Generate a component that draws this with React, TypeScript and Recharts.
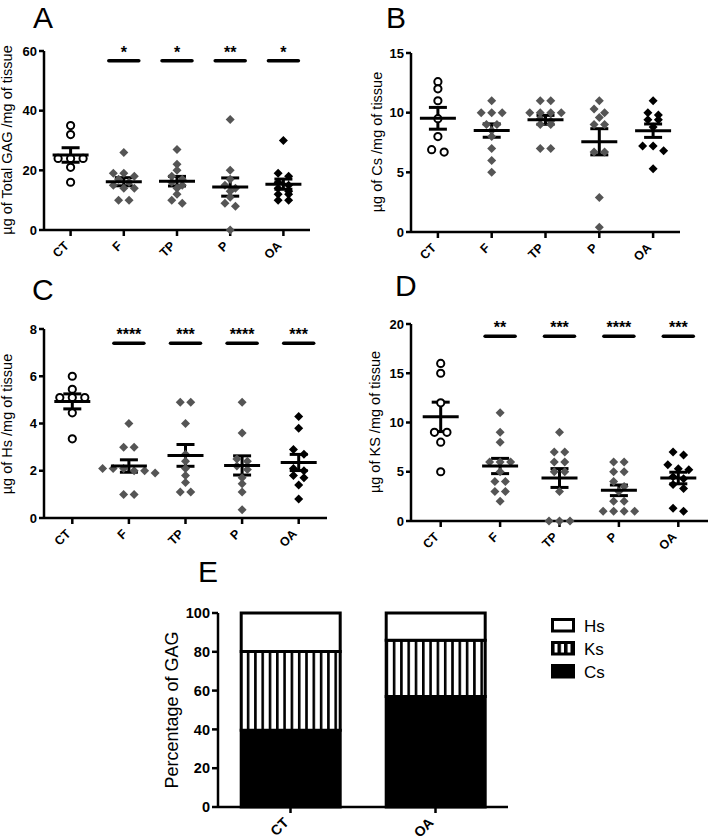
import React from 'react';
import { ScatterChart, Scatter, XAxis, YAxis, ErrorBar, BarChart, Bar, Legend } from 'recharts';

const groupNames = ['CT', 'F', 'TP', 'P', 'OA'];

// Panel A: total GAG (µg / mg tissue)
const gagCT = [32, 35, 24, 24, 24, 21, 16];
const gagF = [26, 19, 19, 18, 17, 16, 15, 14, 14, 10, 10];
const gagTP = [27, 22, 20, 18, 17, 16, 15, 14, 12, 10, 9];
const gagP = [37, 20, 17, 15, 14, 13, 11, 9, 8, 0];
const gagOA = [30, 19, 18, 16, 15, 14, 13, 12, 12, 10, 10];
const gagSig = ['', '*', '*', '**', '*'];

// Panel B: Cs
const csCT = [12.6, 12.0, 11.0, 9.5, 8.0, 6.9, 6.7];
const csF = [11, 10, 10, 10, 9, 9, 8.5, 8, 7, 6, 5];
const csTP = [11, 11, 10, 10, 10, 10, 9.5, 9.3, 9, 9, 7, 7];
const csP = [11, 10.3, 10, 9.6, 9, 9, 6.7, 6.7, 2.9, 0.4];
const csOA = [11, 10, 9.8, 9.4, 9.4, 8.8, 7.2, 7.2, 6.8, 5.3];

// Panel C: Hs
const hsCT = [6.0, 5.45, 5.1, 5.1, 5.1, 4.45, 3.35];
const hsF = [4, 3, 3, 2.1, 2.1, 2.1, 2.0, 2.0, 1.9, 1, 1];
const hsTP = [4.9, 4.9, 4.0, 2.7, 2.4, 2.1, 1.8, 1.5, 1.1, 1.1];
const hsP = [4.9, 3.6, 2.5, 2.4, 2.2, 2.05, 1.7, 1.45, 1.1, 0.35];
const hsOA = [4.3, 3.8, 2.9, 2.7, 2.1, 2.0, 1.8, 1.7, 1.4, 0.8];
const hsSig = ['', '****', '***', '****', '***'];

// Panel D: KS
const ksCT = [16, 15, 12, 9, 9, 8, 5];
const ksF = [11, 9, 8, 6, 6, 6, 5, 4, 4, 3, 3, 2];
const ksTP = [9, 7, 7, 6, 6, 5, 5, 3, 0, 0, 0];
const ksP = [6, 6, 5, 5, 4, 3.5, 3, 2, 2, 1, 1, 1, 1];
const ksOA = [7, 6.7, 5.7, 5.3, 5.2, 4.5, 4.3, 3.7, 3.3, 1.3, 1.0];
const ksSig = ['', '**', '***', '****', '***'];

// Panel E: percentage of GAG
const eCategories = ['CT', 'OA'];
const eCs = [39.5, 57];
const eKs = [40.7, 29];
const eHs = [19.8, 14];

const FONT = '"Liberation Sans", Arial, Helvetica, sans-serif';
const YW = 38;
const XH = 40;
const axisStyle = { stroke: '#000', strokeWidth: 2.5 };

function mean(a: number[]) {
  return a.reduce((s, v) => s + v, 0) / a.length;
}
function sem(a: number[]) {
  const m = mean(a);
  const v = a.reduce((s, x) => s + (x - m) * (x - m), 0) / (a.length - 1);
  return Math.sqrt(v) / Math.sqrt(a.length);
}

// simple column-scatter layout: points at nearly the same height are spread sideways
function swarm(values: number[], ppu: number, step: number, tol: number) {
  const sorted = [...values].sort((a, b) => b - a);
  const rows: number[][] = [];
  let cur: number[] = [];
  let start = 0;
  sorted.forEach((v) => {
    if (cur.length && (start - v) * ppu > tol) {
      rows.push(cur);
      cur = [];
    }
    if (!cur.length) start = v;
    cur.push(v);
  });
  if (cur.length) rows.push(cur);
  const out: { v: number; off: number }[] = [];
  rows.forEach((row) => row.forEach((v, i) => out.push({ v, off: (i - (row.length - 1) / 2) * step })));
  return out;
}

const CircleShape = (p: any) => (
  <circle cx={p.cx} cy={p.cy} r={3.6} fill="#fff" stroke="#000" strokeWidth={2} />
);
const makeDiamond = (fill: string) => (p: any) => {
  const r = 4.5;
  return (
    <polygon
      points={`${p.cx},${p.cy - r} ${p.cx + r},${p.cy} ${p.cx},${p.cy + r} ${p.cx - r},${p.cy}`}
      fill={fill}
    />
  );
};
const GrayDiamond = makeDiamond('#555555');
const BlackDiamond = makeDiamond('#000000');

const MeanShape = (p: any) => (
  <line x1={p.cx - 18} x2={p.cx + 18} y1={p.cy} y2={p.cy} stroke="#000" strokeWidth={3} />
);

const SigShape = (p: any) => (
  <g>
    <line x1={p.cx - 15} x2={p.cx + 15} y1={p.cy} y2={p.cy} stroke="#000" strokeWidth={3.5} strokeLinecap="round" />
    <text x={p.cx} y={p.cy - 3} textAnchor="middle" fontFamily={FONT} fontWeight="bold" fontSize={16} fill="#000">
      {p.payload.label}
    </text>
  </g>
);

const CatTick = (p: any) => {
  const label = p.names ? p.names[Math.round(p.payload.value)] ?? p.payload.value : groupNames[Math.floor(p.payload.value)];
  const fs = p.fs || 12.5;
  const x = p.x - 1;
  const y = p.y + 8.5;
  return (
    <text x={x} y={y} transform={`rotate(-45, ${x}, ${y})`} textAnchor="end" fontFamily={FONT} fontWeight="bold" fontSize={fs} fill="#000">
      {label}
    </text>
  );
};

type PanelProps = {
  left: number;
  top: number;
  width: number;
  height: number;
  margin: { top: number; right: number; bottom: number; left: number };
  yMax: number;
  ticks: number[];
  groups: number[][];
  sig?: string[];
  sigY?: number;
};

function DotPanel({ left, top, width, height, margin, yMax, ticks, groups, sig, sigY }: PanelProps) {
  const plotW = width - margin.left - margin.right - YW;
  const plotH = height - margin.top - margin.bottom - XH;
  const band = plotW / groupNames.length;
  const ppu = plotH / yMax;
  const pointSets = groups.map((vals, gi) =>
    swarm(vals, ppu, gi === 0 ? 12.5 : 10.5, 5).map((p) => ({ x: gi + 0.5 + p.off / band, y: p.v }))
  );
  const meanData = groups.map((vals, gi) => ({ x: gi + 0.5, y: mean(vals), err: sem(vals) }));
  const sigData = sig ? sig.map((s, gi) => ({ x: gi + 0.5, y: sigY, label: s })).filter((d) => d.label) : [];
  return (
    <div style={{ position: 'absolute', left, top }}>
      <ScatterChart width={width} height={height} margin={margin}>
        <XAxis
          type="number"
          dataKey="x"
          domain={[0, 5]}
          ticks={[0.5, 1.5, 2.5, 3.5, 4.5]}
          interval={0}
          height={XH}
          axisLine={axisStyle}
          tickLine={axisStyle}
          tickSize={6}
          tickMargin={2}
          tick={<CatTick />}
        />
        <YAxis
          type="number"
          dataKey="y"
          domain={[0, yMax]}
          ticks={ticks}
          interval={0}
          width={YW}
          axisLine={axisStyle}
          tickLine={axisStyle}
          tickSize={5}
          tickMargin={2}
          tick={{ fill: '#000', fontSize: 13, fontWeight: 'bold', fontFamily: FONT }}
        />
        {pointSets.map((pts, gi) => (
          <Scatter
            key={gi}
            data={pts}
            shape={gi === 0 ? CircleShape : gi === 4 ? BlackDiamond : GrayDiamond}
            isAnimationActive={false}
          />
        ))}
        <Scatter data={meanData} shape={MeanShape} isAnimationActive={false}>
          <ErrorBar dataKey="err" direction="y" width={9} stroke="#000" strokeWidth={3} />
        </Scatter>
        {sigData.length > 0 && <Scatter data={sigData} shape={SigShape} isAnimationActive={false} />}
      </ScatterChart>
    </div>
  );
}

const eSeriesNames = ['Hs', 'Ks', 'Cs'];
const ELegend = () => (
  <svg width={140} height={72} style={{ display: 'block' }}>
    {eSeriesNames.map((n, i) => (
      <g key={n}>
        <rect
          x={1.5}
          y={1.5 + i * 23}
          width={21}
          height={11.5}
          fill={n === 'Hs' ? '#fff' : n === 'Ks' ? 'url(#vstripesLegend)' : '#000'}
          stroke="#000"
          strokeWidth={3}
        />
        <text x={33} y={13.5 + i * 23} fontFamily={FONT} fontSize={17} fill="#000">
          {n}
        </text>
      </g>
    ))}
  </svg>
);

export default function App() {
  const eData = eCategories.map((c, i) => ({ cat: c, Cs: eCs[i], Ks: eKs[i], Hs: eHs[i] }));
  return (
    <div style={{ position: 'absolute', left: 0, top: 0, width: 709, height: 839, background: '#fff', fontFamily: FONT }}>
      <svg width={0} height={0} style={{ position: 'absolute' }}>
        <defs>
          <pattern id="vstripes" patternUnits="userSpaceOnUse" width={7.3} height={10}>
            <rect x={0} y={0} width={7.3} height={10} fill="#fff" />
            <rect x={0} y={0} width={2.6} height={10} fill="#000" />
          </pattern>
          <pattern id="vstripesLegend" patternUnits="userSpaceOnUse" x={0} width={6.5} height={10}>
            <rect x={0} y={0} width={6.5} height={10} fill="#000" />
            <rect x={3.5} y={0} width={3} height={10} fill="#fff" />
          </pattern>
        </defs>
      </svg>

      <DotPanel
        left={0}
        top={0}
        width={330}
        height={290}
        margin={{ top: 51, right: 20, bottom: 20, left: 6 }}
        yMax={60}
        ticks={[0, 20, 40, 60]}
        groups={[gagCT, gagF, gagTP, gagP, gagOA]}
        sig={gagSig}
        sigY={56.7}
      />
      <DotPanel
        left={350}
        top={0}
        width={359}
        height={290}
        margin={{ top: 53, right: 29, bottom: 18, left: 23 }}
        yMax={15}
        ticks={[0, 5, 10, 15]}
        groups={[csCT, csF, csTP, csP, csOA]}
      />
      <DotPanel
        left={0}
        top={290}
        width={350}
        height={300}
        margin={{ top: 39, right: 23, bottom: 32, left: 6 }}
        yMax={8}
        ticks={[0, 2, 4, 6, 8]}
        groups={[hsCT, hsF, hsTP, hsP, hsOA]}
        sig={hsSig}
        sigY={7.4}
      />
      <DotPanel
        left={350}
        top={290}
        width={359}
        height={300}
        margin={{ top: 34, right: 1, bottom: 29, left: 23 }}
        yMax={20}
        ticks={[0, 5, 10, 15, 20]}
        groups={[ksCT, ksF, ksTP, ksP, ksOA]}
        sig={ksSig}
        sigY={18.75}
      />

      <div style={{ position: 'absolute', left: 130, top: 590 }}>
        <BarChart width={579} height={249} margin={{ top: 23, right: 201, bottom: 2, left: 50 }} data={eData} barCategoryGap="16%">
          <XAxis
            dataKey="cat"
            type="category"
            height={30}
            axisLine={axisStyle}
            tickLine={axisStyle}
            tickSize={6}
            tickMargin={2}
            tick={<CatTick names={eCategories} fs={14} />}
          />
          <YAxis
            type="number"
            domain={[0, 100]}
            ticks={[0, 20, 40, 60, 80, 100]}
            interval={0}
            width={38}
            axisLine={axisStyle}
            tickLine={axisStyle}
            tickSize={6}
            tickMargin={2}
            tick={{ fill: '#000', fontSize: 14.5, fontWeight: 'bold', fontFamily: FONT }}
          />
          <Bar dataKey="Cs" stackId="s" fill="#000" stroke="#000" strokeWidth={3} isAnimationActive={false} />
          <Bar dataKey="Ks" stackId="s" fill="url(#vstripes)" stroke="#000" strokeWidth={3} isAnimationActive={false} />
          <Bar dataKey="Hs" stackId="s" fill="#fff" stroke="#000" strokeWidth={3} isAnimationActive={false} />
          <Legend
            layout="vertical"
            align="center"
            verticalAlign="middle"
            wrapperStyle={{ left: 421, top: 28, width: 140 }}
            content={<ELegend />}
          />
        </BarChart>
      </div>

      <svg width={709} height={839} style={{ position: 'absolute', left: 0, top: 0, pointerEvents: 'none' }}>
        <g fontFamily={FONT} fill="#000">
          <text x={33} y={27.5} fontSize={30}>A</text>
          <text x={386} y={27.5} fontSize={30}>B</text>
          <text x={32} y={300} fontSize={30}>C</text>
          <text x={395} y={296} fontSize={30}>D</text>
          <text x={198} y={582} fontSize={30}>E</text>
          <text x={12} y={140} fontSize={14.5} textAnchor="middle" transform="rotate(-90, 12, 140)">µg of Total GAG /mg of tissue</text>
          <text x={382} y={142} fontSize={14.5} textAnchor="middle" transform="rotate(-90, 382, 142)">µg of Cs /mg of tissue</text>
          <text x={12} y={424} fontSize={14.5} textAnchor="middle" transform="rotate(-90, 12, 424)">µg of Hs /mg of tissue</text>
          <text x={380} y={422} fontSize={14.5} textAnchor="middle" transform="rotate(-90, 380, 422)">µg of KS /mg of tissue</text>
          <text x={178} y={710} fontSize={18} textAnchor="middle" transform="rotate(-90, 178, 710)">Percentage of GAG</text>
        </g>
      </svg>
    </div>
  );
}
